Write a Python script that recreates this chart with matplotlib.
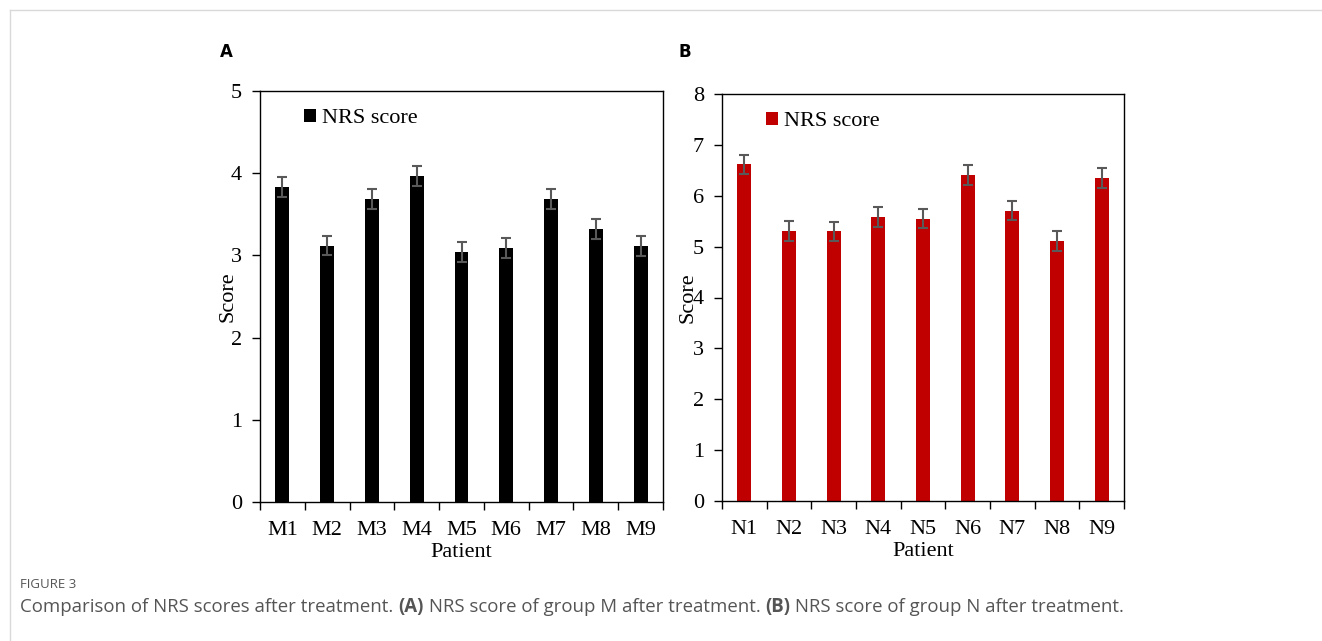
import numpy as np
import matplotlib
matplotlib.use('Agg')
import matplotlib.pyplot as plt
from matplotlib.ticker import FixedLocator, NullFormatter

# Data
m_labels = ['M1', 'M2', 'M3', 'M4', 'M5', 'M6', 'M7', 'M8', 'M9']
m_scores = [3.83, 3.12, 3.69, 3.97, 3.04, 3.09, 3.69, 3.32, 3.11]
m_err = [0.12, 0.12, 0.12, 0.12, 0.12, 0.12, 0.12, 0.12, 0.12]

n_labels = ['N1', 'N2', 'N3', 'N4', 'N5', 'N6', 'N7', 'N8', 'N9']
n_scores = [6.62, 5.31, 5.30, 5.58, 5.55, 6.41, 5.71, 5.11, 6.35]
n_err = [0.19, 0.19, 0.19, 0.19, 0.19, 0.19, 0.19, 0.19, 0.19]

serif = ['Liberation Serif', 'DejaVu Serif']
fs = 16

fig = plt.figure(figsize=(13.22, 6.41), dpi=100)

# page frame lines (top and left)
fig.add_artist(plt.Line2D([10 / 1322, 1], [1 - 10 / 641, 1 - 10 / 641], color='#d9d9d9', lw=1))
fig.add_artist(plt.Line2D([10 / 1322, 10 / 1322], [0, 1 - 10 / 641], color='#d9d9d9', lw=1))


def panel(rect, labels, scores, err, color, ymax, letter, letter_x, ylab_x, leg_x):
    ax = fig.add_axes(rect)
    x = np.arange(len(labels)) + 0.5
    ax.bar(x, scores, width=0.31, color=color, label='NRS score', zorder=2)
    ax.errorbar(x, scores, yerr=err, fmt='none', ecolor='#595959',
                elinewidth=1.5, capsize=3.6, capthick=1.5, zorder=3)
    ax.set_xlim(0, len(labels))
    ax.set_ylim(0, ymax)
    ax.set_yticks(range(0, ymax + 1))
    ax.xaxis.set_major_locator(FixedLocator(range(0, len(labels) + 1)))
    ax.xaxis.set_major_formatter(NullFormatter())
    ax.xaxis.set_minor_locator(FixedLocator(x))
    ax.set_xticklabels(labels, minor=True)
    ax.tick_params(axis='x', which='major', direction='out', length=6, width=1)
    ax.tick_params(axis='x', which='minor', length=0, pad=14)
    ax.tick_params(axis='y', direction='out', length=6, width=1, pad=7)
    for lab in ax.get_xticklabels(minor=True) + ax.get_yticklabels():
        lab.set_fontfamily(serif)
        lab.set_fontsize(fs)
    for sp in ax.spines.values():
        sp.set_linewidth(1)
        sp.set_color('black')
    ax.set_xlabel('Patient', fontfamily=serif, fontsize=fs, labelpad=1.5)
    ax.set_ylabel('Score', fontfamily=serif, fontsize=fs)
    # y label sits at a fixed spot (overlaps the "4" tick label in panel B)
    ax.yaxis.set_label_coords(ylab_x, 0.5)
    ax.legend(loc='upper left', frameon=False, prop={'family': serif, 'size': fs},
              handlelength=0.55, handleheight=0.55, handletextpad=0.25,
              borderaxespad=0.4, bbox_to_anchor=(leg_x, 1.0))
    fig.text(letter_x / 1322, 1 - 52 / 641, letter, fontsize=12, fontweight='bold',
             family='DejaVu Sans', va='center', ha='left')
    return ax


panel([260 / 1322, 1 - 502 / 641, 403 / 1322, 411 / 641], m_labels, m_scores, m_err,
      'black', 5, 'A', 220, -0.057, 0.065)
panel([722 / 1322, 1 - 501 / 641, 402 / 1322, 407 / 641], n_labels, n_scores, n_err,
      '#C00000', 8, 'B', 679, -0.062, 0.065)

fig.text(20 / 1322, 1 - 585 / 641, 'FIGURE 3', fontsize=9.5, color='#555555',
         family='Open Sans', va='center')

# caption with bold panel letters
parts = [('Comparison of NRS scores after treatment. ', 'normal'), ('(A)', 'bold'),
         (' NRS score of group M after treatment. ', 'normal'), ('(B)', 'bold'),
         (' NRS score of group N after treatment.', 'normal')]
fig.canvas.draw()
renderer = fig.canvas.get_renderer()
xpos = 20
for txt, weight in parts:
    t = fig.text(xpos / 1322, 1 - 607 / 641, txt, fontsize=13.4, color='#555555',
                 family='Open Sans', fontweight=weight, va='center')
    bb = t.get_window_extent(renderer=renderer)
    xpos += bb.width

fig.savefig('out.png', dpi=100)
